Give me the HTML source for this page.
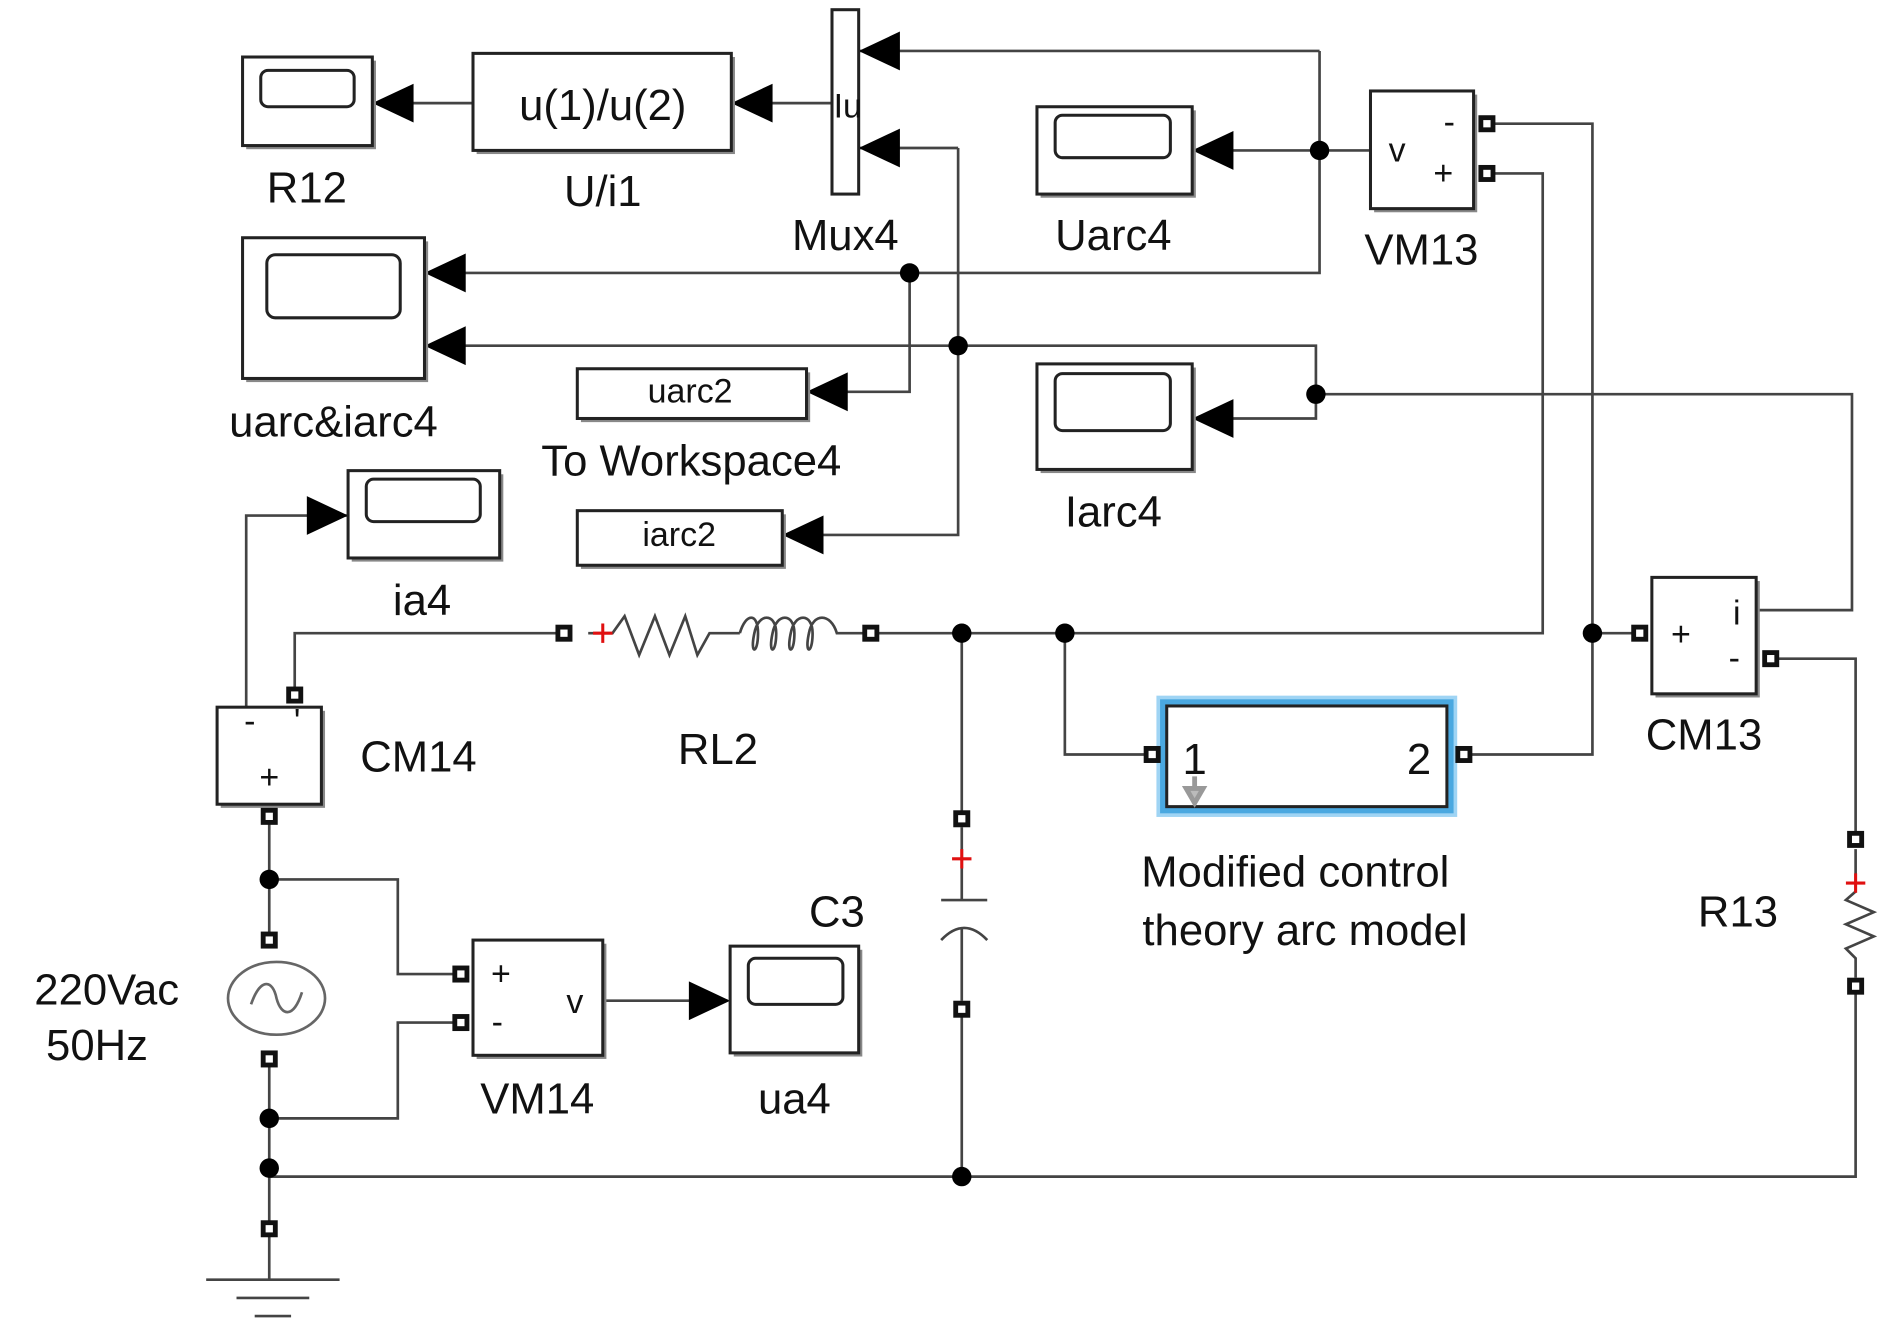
<!DOCTYPE html>
<html><head><meta charset="utf-8"><style>
html,body{margin:0;padding:0;background:#fff;}
svg{display:block;}
text{font-family:"Liberation Sans",sans-serif;fill:#111;}
</style></head><body>
<svg width="1892" height="1344" viewBox="0 0 1560 1108" preserveAspectRatio="none" xmlns="http://www.w3.org/2000/svg">
<defs>
<g id="port"><rect x="-7" y="-7" width="14" height="14" fill="#111"/><rect x="-3" y="-3" width="6" height="6" fill="#fff"/></g>
<g id="arrR"><polygon points="0,0 -34,-16 -34,16" fill="#000"/></g>
<g id="arrL"><polygon points="0,0 34,-16 34,16" fill="#000"/></g>
</defs>
<g fill="none" stroke="#444" stroke-width="2.2">
<polyline points="1088,42 708,42"/>
<polyline points="1088,42 1088,225 350,225"/>
<polyline points="1130,124 983,124"/>
<polyline points="790,122 708,122"/>
<polyline points="790,122 790,441 645,441"/>
<polyline points="685,85 603,85"/>
<polyline points="390,85 307,85"/>
<polyline points="750,225 750,323 665,323"/>
<polyline points="350,285 1085,285 1085,345 983,345"/>
<polyline points="1085,325 1527,325 1527,503 1448,503"/>
<polyline points="1226,102 1313,102 1313,622 1207,622"/>
<polyline points="1313,522 1352,522"/>
<polyline points="1226,143 1272,143 1272,522 718,522"/>
<polyline points="878,522 878,622 950,622"/>
<polyline points="1460,543 1530,543 1530,690"/>
<polyline points="1530,813 1530,970 222,970"/>
<polyline points="793,522 793,675"/>
<polyline points="793,832 793,970"/>
<polyline points="465,522 243,522 243,573"/>
<polyline points="203,583 203,425 287,425"/>
<polyline points="222,673 222,775"/>
<polyline points="222,725 328,725 328,803 380,803"/>
<polyline points="222,873 222,1013"/>
<polyline points="222,922 328,922 328,843 380,843"/>
<polyline points="497,825 600,825"/>
<polyline points="222,1013 222,1055"/>
<line x1="170" y1="1055" x2="280" y2="1055"/>
<line x1="195" y1="1070" x2="255" y2="1070"/>
<line x1="210" y1="1085" x2="240" y2="1085"/>
<polyline points="485,522 505,522 515,508 527,540 540,508 552,540 565,508 575,540 585,522 610,522"/>
<path d="M610,522 C615,505 625,505 625,522 C625,540 618,540 622,522 C625,505 640,505 640,522 C640,540 633,540 637,522 C640,505 655,505 655,522 C655,540 648,540 652,522 C655,505 670,505 670,522 C670,540 663,540 667,522 C670,505 685,505 690,522 L712,522"/>
<line x1="793" y1="682" x2="793" y2="742"/>
<line x1="776" y1="742" x2="814" y2="742"/>
<path d="M776,775 Q795,755 814,775"/>
<line x1="793" y1="765" x2="793" y2="825"/>
<polyline points="1530,700 1530,735 1522,742 1545,752 1522,762 1545,772 1522,782 1530,790 1530,806"/>
<ellipse cx="228" cy="823" rx="40" ry="30" stroke="#666"/>
<path d="M207,828 C215,805 225,808 228,823 C232,838 242,840 249,818" stroke="#666"/>
</g>
<g fill="#000">
<circle cx="1088" cy="124" r="8"/><circle cx="750" cy="225" r="8"/><circle cx="790" cy="285" r="8"/>
<circle cx="1085" cy="325" r="8"/><circle cx="793" cy="522" r="8"/><circle cx="878" cy="522" r="8"/>
<circle cx="1313" cy="522" r="8"/><circle cx="222" cy="725" r="8"/><circle cx="222" cy="922" r="8"/>
<circle cx="222" cy="963" r="8"/><circle cx="793" cy="970" r="8"/>
</g>
<use href="#arrL" x="708" y="42"/><use href="#arrL" x="708" y="122"/>
<use href="#arrL" x="603" y="85"/><use href="#arrL" x="307" y="85"/>
<use href="#arrL" x="983" y="124"/><use href="#arrL" x="350" y="225"/><use href="#arrL" x="350" y="285"/>
<use href="#arrL" x="665" y="323"/><use href="#arrL" x="645" y="441"/><use href="#arrL" x="983" y="345"/>
<use href="#arrR" x="287" y="425"/><use href="#arrR" x="602" y="825"/>
<g fill="#fff" stroke="#222" stroke-width="2.5">
<rect x="203" y="50" width="107" height="73" fill="#888" stroke="none"/><rect x="200" y="47" width="107" height="73"/>
<rect x="215" y="58" width="77" height="30" rx="6"/>
<rect x="393" y="47" width="213" height="80" fill="#888" stroke="none"/><rect x="390" y="44" width="213" height="80"/>
<rect x="686" y="8" width="22" height="152"/>
<rect x="858" y="91" width="128" height="72" fill="#888" stroke="none"/><rect x="855" y="88" width="128" height="72"/>
<rect x="870" y="95" width="95" height="35" rx="6"/>
<rect x="1133" y="78" width="85" height="97" fill="#888" stroke="none"/><rect x="1130" y="75" width="85" height="97"/>
<rect x="203" y="199" width="150" height="116" fill="#888" stroke="none"/><rect x="200" y="196" width="150" height="116"/>
<rect x="220" y="210" width="110" height="52" rx="7"/>
<rect x="479" y="307" width="189" height="41" fill="#888" stroke="none"/><rect x="476" y="304" width="189" height="41"/>
<rect x="479" y="424" width="169" height="45" fill="#888" stroke="none"/><rect x="476" y="421" width="169" height="45"/>
<rect x="858" y="303" width="128" height="87" fill="#888" stroke="none"/><rect x="855" y="300" width="128" height="87"/>
<rect x="870" y="308" width="95" height="47" rx="6"/>
<rect x="290" y="391" width="125" height="72" fill="#888" stroke="none"/><rect x="287" y="388" width="125" height="72"/>
<rect x="302" y="395" width="94" height="35" rx="6"/>
<rect x="182" y="586" width="86" height="80" fill="#888" stroke="none"/><rect x="179" y="583" width="86" height="80"/>
<rect x="1365" y="479" width="86" height="96" fill="#888" stroke="none"/><rect x="1362" y="476" width="86" height="96"/>
<rect x="955" y="575" width="245" height="97" fill="#4aa8e0" stroke="#9fd4f4" stroke-width="3"/>
<rect x="962" y="582" width="231" height="83"/>
<rect x="393" y="778" width="107" height="95" fill="#888" stroke="none"/><rect x="390" y="775" width="107" height="95"/>
<rect x="605" y="783" width="106" height="88" fill="#888" stroke="none"/><rect x="602" y="780" width="106" height="88"/>
<rect x="617" y="790" width="78" height="38" rx="6"/>
</g>
<use href="#port" x="1226" y="102"/><use href="#port" x="1226" y="143"/>
<use href="#port" x="465" y="522"/><use href="#port" x="718" y="522"/>
<use href="#port" x="243" y="573"/><use href="#port" x="222" y="673"/>
<use href="#port" x="950" y="622"/><use href="#port" x="1207" y="622"/>
<use href="#port" x="1352" y="522"/><use href="#port" x="1460" y="543"/>
<use href="#port" x="1530" y="692"/><use href="#port" x="1530" y="813"/>
<use href="#port" x="793" y="675"/><use href="#port" x="793" y="832"/>
<use href="#port" x="222" y="775"/><use href="#port" x="222" y="873"/><use href="#port" x="222" y="1013"/>
<use href="#port" x="380" y="803"/><use href="#port" x="380" y="843"/>
<g stroke="#e01010" stroke-width="2.5">
<line x1="489" y1="522" x2="505" y2="522"/><line x1="497" y1="514" x2="497" y2="530"/>
<line x1="785" y1="708" x2="801" y2="708"/><line x1="793" y1="700" x2="793" y2="716"/>
<line x1="1522" y1="728" x2="1538" y2="728"/><line x1="1530" y1="720" x2="1530" y2="736"/>
</g>
<path d="M985,640 L985,650 L978,650 L985,662 L992,650 L985,650" fill="#bbb" stroke="#999" stroke-width="4"/>
<g font-size="36" text-anchor="middle">
<text x="497" y="99">u(1)/u(2)</text>
<text x="253" y="167">R12</text>
<text x="497" y="170">U/i1</text>
<text x="697" y="206">Mux4</text>
<text x="918" y="206">Uarc4</text>
<text x="1172" y="218">VM13</text>
<text x="275" y="360">uarc&amp;iarc4</text>
<text x="570" y="392">To Workspace4</text>
<text x="918" y="434">Iarc4</text>
<text x="348" y="507">ia4</text>
<text x="345" y="636">CM14</text>
<text x="592" y="630">RL2</text>
<text x="1405" y="618">CM13</text>
<text x="1433" y="764">R13</text>
<text x="690" y="764">C3</text>
<text x="88" y="828">220Vac</text>
<text x="80" y="874">50Hz</text>
<text x="443" y="918">VM14</text>
<text x="655" y="918">ua4</text>
<text x="1068" y="731">Modified control</text>
<text x="1076" y="779">theory arc model</text>
<text x="985" y="638">1</text>
<text x="1170" y="638">2</text>
</g>
<g font-size="28" text-anchor="middle">
<text x="569" y="332">uarc2</text>
<text x="560" y="450">iarc2</text>
<text x="699" y="97">Iu</text>
<text x="1152" y="133">v</text>
<text x="1195" y="110">-</text>
<text x="1190" y="152">+</text>
<text x="222" y="650">+</text>
<text x="206" y="604">-</text>
<text x="245" y="604">'</text>
<text x="1386" y="532">+</text>
<text x="1432" y="515">i</text>
<text x="1430" y="552">-</text>
<text x="413" y="812">+</text>
<text x="410" y="852">-</text>
<text x="474" y="835">v</text>
</g>
</svg>
</body></html>
